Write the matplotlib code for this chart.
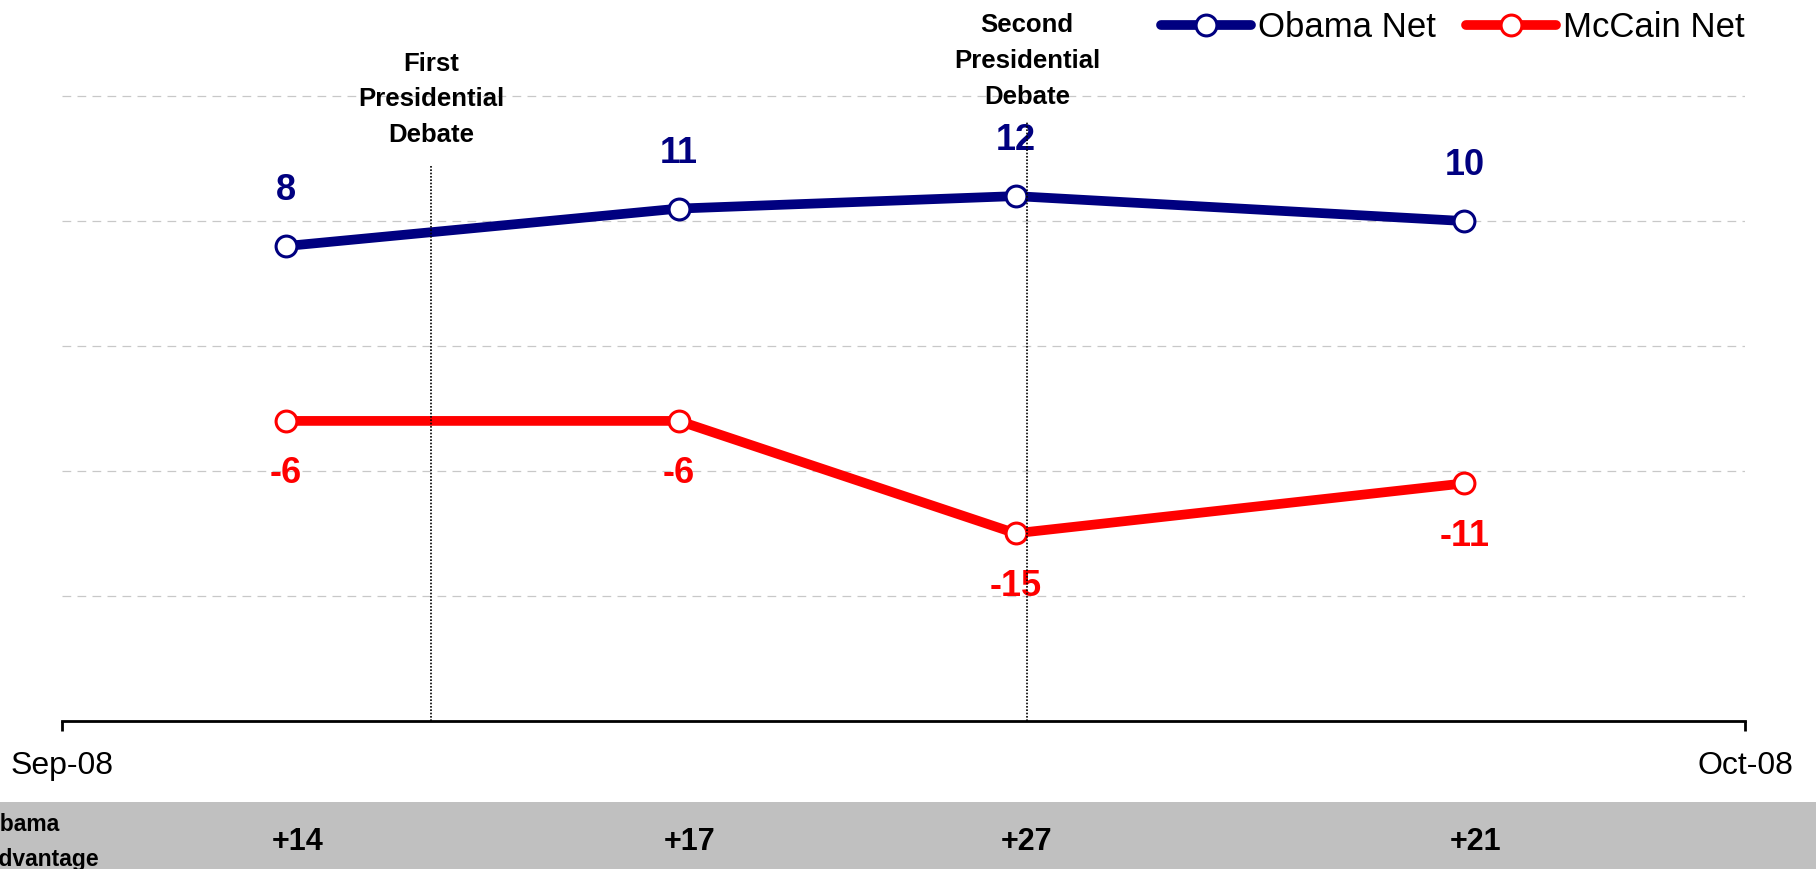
import datetime as dt
import matplotlib
matplotlib.use('Agg')
import matplotlib.pyplot as plt
import matplotlib.dates as mdates
import matplotlib.transforms as mtransforms
from matplotlib.patches import Rectangle

plt.rcParams['font.family'] = ['Liberation Sans', 'DejaVu Sans']

# data
dates = [dt.datetime(2008, 9, 5), dt.datetime(2008, 9, 12),
         dt.datetime(2008, 9, 18), dt.datetime(2008, 9, 26)]
obama_net = [8, 11, 12, 10]
mccain_net = [-6, -6, -15, -11]
obama_adv = ['+14', '+17', '+27', '+21']

debate_dates = [dt.datetime(2008, 9, 7, 14), dt.datetime(2008, 9, 18, 5)]
debate_tops = [14.4, 17.9]
debate_names = ['First\nPresidential\nDebate', 'Second\nPresidential\nDebate']

navy = '#000080'
red = '#FF0000'

fig = plt.figure(figsize=(18.16, 8.69), dpi=100)
ax = fig.add_axes([0.0339, 0.1707, 0.927, 0.8293])
ax.patch.set_visible(False)

# grey strip along the bottom
fig.patches.append(Rectangle((0, 0), 1, 0.0774, transform=fig.transFigure,
                             facecolor='#C0C0C0', edgecolor='none', zorder=-10))

# lines
ax.plot(dates, obama_net, color=navy, lw=7, marker='o', ms=15, mfc='white',
        mec=navy, mew=2.2, label='Obama Net', zorder=3, solid_capstyle='round')
ax.plot(dates, mccain_net, color=red, lw=7, marker='o', ms=15, mfc='white',
        mec=red, mew=2.2, label='McCain Net', zorder=3, solid_capstyle='round')

# value labels
for d, v in zip(dates, obama_net):
    ax.annotate(str(v), (d, v), xytext=(0, 40), textcoords='offset points',
                ha='center', va='center', fontsize=26, fontweight='bold', color=navy)
for d, v in zip(dates, mccain_net):
    ax.annotate(str(v), (d, v), xytext=(0, -38), textcoords='offset points',
                ha='center', va='center', fontsize=26, fontweight='bold', color=red)

# debate markers
trans = mtransforms.blended_transform_factory(ax.transData, fig.transFigure)
label_tops = [1 - 51.7 / 869, 1 - 13 / 869]
for d, top, name, ty in zip(debate_dates, debate_tops, debate_names, label_tops):
    ax.plot([d, d], [-30, top], color='black', lw=1.2, ls=(0, (1, 1)), zorder=5)
    ax.text(d, ty, name, transform=trans, ha='center', va='top', fontsize=18.5,
            fontweight='bold', linespacing=1.62)

# axes styling
ax.set_xlim(dt.datetime(2008, 9, 1), dt.datetime(2008, 10, 1))
ax.set_ylim(-30, 27.7)
ax.xaxis.set_major_locator(mdates.MonthLocator())
ax.xaxis.set_major_formatter(mdates.DateFormatter('%b-%y'))
ax.set_yticks([-20, -10, 0, 10, 20])
ax.yaxis.grid(True, color='#C8C8C8', ls=(0, (7, 5)), lw=0.9)
ax.tick_params(axis='y', left=False, labelleft=False)
ax.tick_params(axis='x', length=7, width=2, pad=15, labelsize=23)
for s in ['left', 'right', 'top']:
    ax.spines[s].set_visible(False)
ax.spines['bottom'].set_linewidth(2)

ax.legend(loc='upper right', bbox_to_anchor=(1745 / 1816, 1 - 11 / 869),
          bbox_transform=fig.transFigure, ncol=2, frameon=False, fontsize=25,
          handlelength=2.6, handletextpad=0.2, columnspacing=0.86,
          borderpad=0, borderaxespad=0)

# Obama advantage row
for d, s in zip(dates, obama_adv):
    ax.annotate(s, xy=(d, 1 - 842 / 869), xycoords=('data', 'figure fraction'),
                xytext=(8, 0), textcoords='offset points', ha='center', va='center',
                fontsize=22, fontweight='bold', annotation_clip=False, zorder=6)
fig.text(-18 / 1816, 1 - 813 / 869, 'Obama\nAdvantage', ha='left', va='top',
         fontsize=16.5, fontweight='bold', linespacing=1.65)

fig.savefig('out.png', dpi=100)
